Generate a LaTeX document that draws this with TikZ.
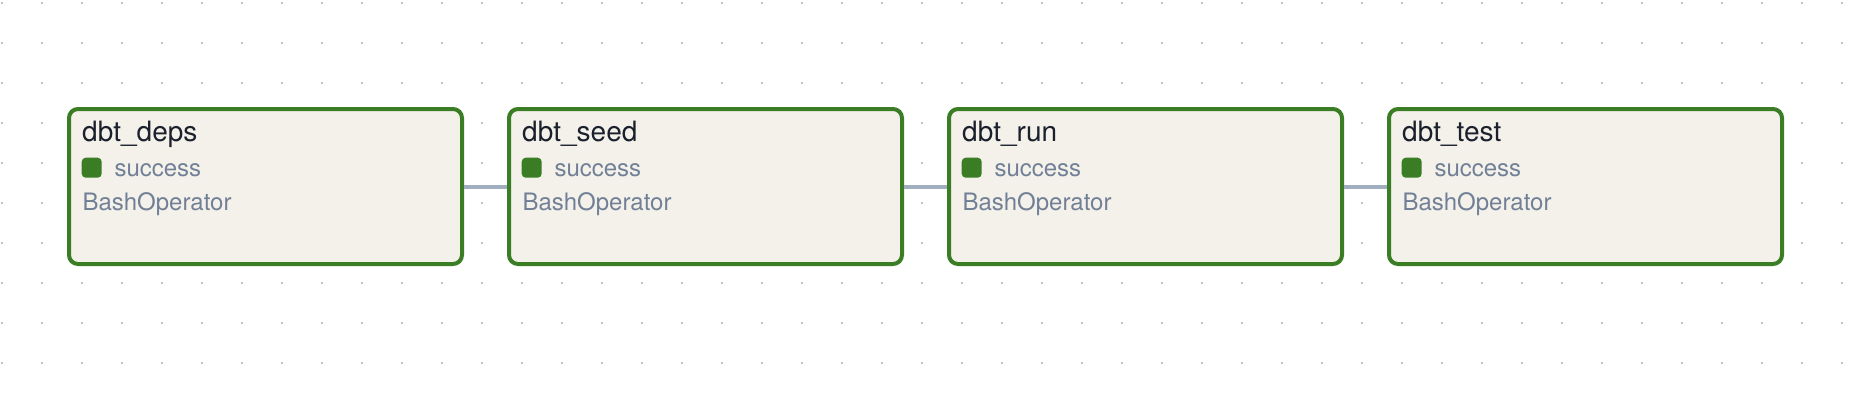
\documentclass[tikz,border=0pt]{standalone}
\usepackage{fontspec}
\setmainfont{TeX Gyre Heros}
\usepackage{tikz}
\definecolor{okgreen}{RGB}{58,125,36}
\definecolor{boxfill}{RGB}{243,241,234}
\definecolor{titlegray}{RGB}{26,32,44}
\definecolor{textgray}{RGB}{113,128,150}
\definecolor{linkgray}{RGB}{160,174,192}
\definecolor{dotgray}{RGB}{175,175,175}

\begin{document}
\begin{tikzpicture}[x=1pt, y=-1pt,
	taskbox/.style = {draw = okgreen, line width = 4pt, fill = boxfill, rounded corners = 9pt,
		minimum width = 393pt, minimum height = 155pt, outer sep = 2pt, anchor = north west},
	tasktitle/.style = {anchor = base west, inner sep = 0pt, text = titlegray, font = \fontsize{28}{30}\selectfont},
	taskinfo/.style = {anchor = base west, inner sep = 0pt, text = textgray, font = \fontsize{24}{26}\selectfont},
	link/.style = {draw = linkgray, line width = 4pt}]
\useasboundingbox[fill = white] (0,0) rectangle (1850,400);

\foreach \gx in {0,...,46}
	\foreach \gy in {0,...,9}
		\fill[dotgray] (2+40*\gx, 3+40*\gy) circle (1.1);

\foreach \i/\name/\txt in {0/deps/dbt\_deps, 1/seed/dbt\_seed, 2/run/dbt\_run, 3/test/dbt\_test} {
	\node[taskbox] (\name) at (67+440*\i, 107) {};
	\node[tasktitle] (\name-title) at (82+440*\i, 141.2) {\txt};
	\fill[okgreen, rounded corners = 4pt] (81.7+440*\i, 157.7) rectangle (101.7+440*\i, 177.7);
	\node[taskinfo] (\name-state) at (114.3+440*\i, 176.7) {success};
	\node[taskinfo] (\name-op) at (82.3+440*\i, 210.7) {BashOperator};
}

\draw[link] (deps.east) -- (seed.west);
\draw[link] (seed.east) -- (run.west);
\draw[link] (run.east) -- (test.west);
\end{tikzpicture}
\end{document}
